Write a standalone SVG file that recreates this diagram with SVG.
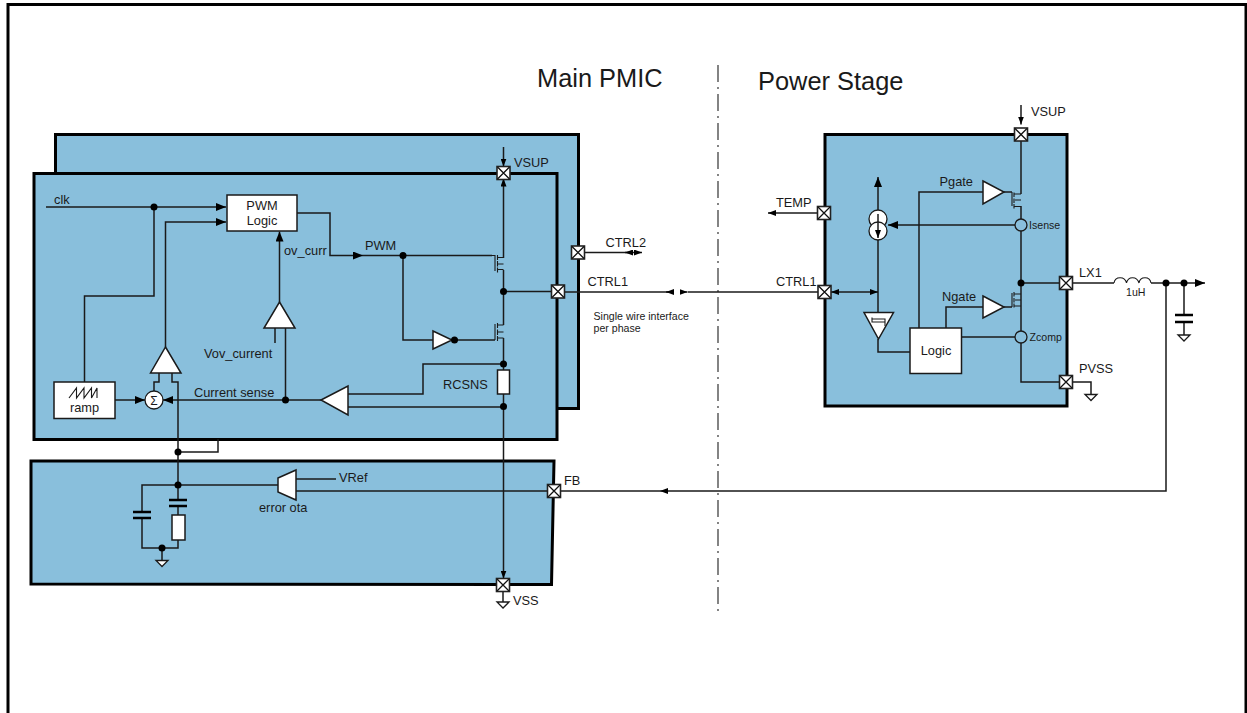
<svg xmlns="http://www.w3.org/2000/svg" width="1247" height="713" viewBox="0 0 1247 713">
<style>
text{font-family:"Liberation Sans",Arial,sans-serif;font-size:12.8px;fill:#1a1a1a}
.t{font-size:25.4px}
.s{font-size:10.6px}
.panel{fill:#89bfdc;stroke:#000;stroke-width:3}
.box{fill:#fff;stroke:#1a1a1a;stroke-width:1.5}
.w{fill:none;stroke:#1a1a1a;stroke-width:1.5}
.thin{fill:none;stroke:#1a1a1a;stroke-width:1.1}
.plate{fill:none;stroke:#000;stroke-width:2.5}
.dot{fill:#000}
</style>
<defs>
<g id="pin"><rect x="-6.5" y="-6.5" width="13" height="13" fill="#fff" stroke="#222" stroke-width="1.6"/><path d="M-6 -6L6 6M-6 6L6 -6" stroke="#111" stroke-width="1.3" fill="none"/></g>
<path id="gnd" d="M-6 0H6L0 6Z" fill="#fff" stroke="#1a1a1a" stroke-width="1.3"/>
<marker id="arr" viewBox="0 0 10 8" refX="10" refY="4" markerWidth="10" markerHeight="8" markerUnits="userSpaceOnUse" orient="auto-start-reverse"><path d="M0 0L10 4L0 8Z" fill="#000"/></marker>
<marker id="arrs" viewBox="0 0 8 6" refX="8" refY="3" markerWidth="8" markerHeight="6" markerUnits="userSpaceOnUse" orient="auto-start-reverse"><path d="M0 0L8 3L0 6Z" fill="#000"/></marker>
</defs>

<g id="frame"><path d="M8 713V4.500H1246V713" fill="none" stroke="#000" stroke-width="3"/></g>

<g id="titles">
<text class="t" x="537" y="87">Main PMIC</text>
<text class="t" x="758" y="90">Power Stage</text>
</g>

<g id="panels">
<rect id="panel-back" class="panel" x="55.500" y="134.500" width="523" height="274"/>
<rect id="panel-front" class="panel" x="34" y="173.500" width="523" height="266"/>
<path id="panel-bottom" class="panel" d="M31 461H554L551.500 584.500L31 584Z"/>
<rect id="panel-stage" class="panel" x="825" y="134.500" width="242" height="271.500"/>
</g>

<g id="connectors">
<path d="M718 65V612" fill="none" stroke="#333" stroke-width="1.2" stroke-dasharray="17 5 2 5"/>
<path class="w" d="M46 207H226" marker-end="url(#arr)"/>
<path class="w" d="M154 207V296H84.500V382"/>
<path class="w" d="M165.500 347V222H226" marker-end="url(#arr)"/>
<path class="w" d="M297 213H330V255.500H363" marker-end="url(#arr)"/>
<path class="w" d="M363 255.500H492"/>
<path class="w" d="M403 255.500V340H433"/>
<path class="w" d="M452 340H495"/>
<path class="w" d="M279.500 302V231.500" marker-end="url(#arr)"/>
<path class="w" d="M275 328V343"/>
<path class="w" d="M285.500 328V400"/>
<path class="w" d="M321 400H163" marker-end="url(#arr)"/>
<path class="w" d="M115 400H145" marker-end="url(#arr)"/>
<path class="w" d="M159 373V382H154V391"/>
<path class="w" d="M172 373V382H178V485"/>
<path class="w" d="M178 452H218V439"/>
<path class="w" d="M348 394H423V364H503.500"/>
<path class="w" d="M348 407H503.500"/>
<path class="w" d="M503.500 258V178.500" marker-end="url(#arrs)"/>
<path class="w" d="M503.500 147V166.500" marker-end="url(#arrs)"/>
<path class="w" d="M503.500 270V325"/>
<path class="w" d="M503.500 338V578.500" marker-end="url(#arrs)"/>
<path class="w" d="M503.500 291.500H558"/>
<path class="w" d="M503 591V602"/>
<path class="w" d="M578 252.500H642" marker-end="url(#arrs)"/>
<path class="w" d="M633 252.500H625" marker-end="url(#arrs)"/>
<path class="w" d="M558 292H674"/>
<path class="w" d="M674 292H666" marker-end="url(#arrs)"/>
<path class="w" d="M680 292H687.500" marker-end="url(#arrs)"/>
<path class="w" d="M688 292H824"/>
<path class="w" d="M178 485H278"/>
<path class="w" d="M178 485V500M178 506V515M178 540V548H142V518M142 512V485H178"/>
<path class="w" d="M162 548V560"/>
<path class="w" d="M296 479H336"/>
<path class="w" d="M296 491H560"/>
<path class="w" d="M1166 283V491H660" marker-end="url(#arrs)"/>
<path class="w" d="M660 491H554"/>
<path class="w" d="M1021 105V124.500" marker-end="url(#arrs)"/>
<path class="w" d="M1021 134.500V194"/>
<path class="w" d="M1021 206V219M1021 231V331M1021 343V382H1066"/>
<path class="w" d="M1021 283H1066"/>
<path class="w" d="M919 328V192H983"/>
<path class="w" d="M946 328V307H983"/>
<path class="w" d="M1004 192H1012M1004 307H1012"/>
<path class="w" d="M1015 225H888" marker-end="url(#arr)"/>
<path class="w" d="M878 210V177" marker-end="url(#arr)"/>
<path class="w" d="M878 240V312"/>
<path class="w" d="M878 339V352H910"/>
<path class="w" d="M961.500 337H1015"/>
<path class="w" d="M831 292H878" marker-start="url(#arrs)" marker-end="url(#arrs)"/>
<path class="w" d="M824 213H768" marker-end="url(#arrs)"/>
<path class="w" d="M1066 382H1091V394"/>
<path class="w" d="M1066 283H1114"/>
<path class="w" d="M1151 283H1205" marker-end="url(#arr)"/>
<path class="w" d="M1184 283V315M1184 322V335"/>
</g>

<g id="pwm-logic"><rect class="box" x="227" y="195" width="70" height="36"/><text x="262" y="210" text-anchor="middle">PWM</text><text x="262" y="225" text-anchor="middle">Logic</text></g>

<g id="ramp"><rect class="box" x="54" y="382" width="61" height="36.500"/><path class="thin" d="M69 398L76.500 388V398L84 388V398L91.500 388V398L97 388V398"/><text x="84.500" y="412" text-anchor="middle">ramp</text></g>

<g id="sum"><circle cx="154" cy="400" r="9" fill="#fff" stroke="#1a1a1a" stroke-width="1.3"/><text x="154" y="404.500" text-anchor="middle" style="font-size:12px">Σ</text></g>

<g id="comparator"><path class="box" d="M165.500 347L181 373H150.500Z"/></g>
<g id="vov-amp"><path class="box" d="M279.500 302L295 328H264Z"/><text x="204" y="358">Vov_current</text><text x="284" y="255">ov_curr</text></g>
<g id="sense-amp"><path class="box" d="M321 400L348 386V415Z"/><text x="194" y="397">Current sense</text></g>
<g id="inverter"><path class="box" d="M433 331L452 340L433 349Z"/></g>
<g id="rcsns"><rect class="box" x="497.500" y="370" width="12" height="24"/><text x="443" y="389">RCSNS</text></g>
<g id="pwm-label"><text x="365" y="250">PWM</text><text x="54" y="204">clk</text></g>

<g id="mosfet-high"><path class="thin" d="M492 255.500H495V271M497.500 255V260M497.500 261V266.500M497.500 267.500V272.500M497.500 257.500H503.500M497.500 269.500H503.500M503.500 264H498"/></g>
<g id="mosfet-low"><path class="thin" d="M495 324V340M497.500 323V328M497.500 329.500V335M497.500 336V341M497.500 325H503.500M497.500 338H503.500M503.500 332H498"/></g>

<g id="rc-network">
<path class="plate" d="M169 500H187M169 506H187M133 512H151M133 518H151"/>
<rect class="box" x="172" y="515" width="13" height="25"/>
<use href="#gnd" x="162" y="560.500"/>
</g>
<g id="error-ota"><path class="box" d="M278 478L296 470V500L278 492Z"/><text x="259" y="512">error ota</text><text x="339" y="482">VRef</text></g>

<g id="dots">
<circle class="dot" cx="154" cy="207" r="3.500"/><circle class="dot" cx="403" cy="255.500" r="3.500"/><circle class="dot" cx="454.500" cy="340" r="3.500"/><circle class="dot" cx="503.500" cy="291.500" r="3.500"/><circle class="dot" cx="503.500" cy="364" r="3.500"/><circle class="dot" cx="503.500" cy="406.500" r="3.500"/><circle class="dot" cx="285.500" cy="400" r="3.500"/><circle class="dot" cx="178" cy="452" r="3.500"/><circle class="dot" cx="178" cy="485" r="3.500"/><circle class="dot" cx="162" cy="548" r="3.500"/><circle class="dot" cx="1021" cy="283" r="3.500"/><circle class="dot" cx="1166" cy="283" r="3.500"/><circle class="dot" cx="1184" cy="283" r="3.500"/>
</g>

<g id="pin-vsup-main"><use href="#pin" x="503.500" y="173"/><text x="514" y="167">VSUP</text></g>
<g id="pin-ctrl2"><use href="#pin" x="578" y="252.500"/><text x="605.500" y="247">CTRL2</text></g>
<g id="pin-ctrl1-main"><use href="#pin" x="558" y="291.500"/><text x="587.500" y="286">CTRL1</text></g>
<g id="pin-fb"><use href="#pin" x="554" y="491"/><text x="564" y="485">FB</text></g>
<g id="pin-vss"><use href="#pin" x="503" y="585"/><use href="#gnd" x="503" y="602"/><text x="513" y="605">VSS</text></g>
<g id="interface-note"><text class="s" x="593.500" y="320">Single wire interface</text><text class="s" x="593.500" y="331.500">per phase</text></g>

<g id="pin-vsup-stage"><use href="#pin" x="1021" y="134.500"/><text x="1031" y="116">VSUP</text></g>
<g id="pin-temp"><use href="#pin" x="824" y="213"/><text x="776" y="207">TEMP</text></g>
<g id="pin-ctrl1-stage"><use href="#pin" x="824.500" y="292"/><text x="776" y="286">CTRL1</text></g>
<g id="pin-lx1"><use href="#pin" x="1066" y="283"/><text x="1079" y="277">LX1</text></g>
<g id="pin-pvss"><use href="#pin" x="1066" y="382"/><use href="#gnd" x="1091" y="394.500"/><text x="1079" y="373">PVSS</text></g>

<g id="current-source"><circle cx="878" cy="219" r="9" fill="#fff" stroke="#1a1a1a" stroke-width="1.3"/><circle cx="878" cy="231" r="9" fill="#fff" stroke="#1a1a1a" stroke-width="1.3"/><path class="w" d="M878 214V238" marker-end="url(#arrs)"/></g>
<g id="schmitt"><path class="box" d="M864 312.500H893.500L878.500 339Z"/><path class="thin" d="M872 317.500V322H885M872 319H885V326"/></g>
<g id="logic"><rect class="box" x="910" y="328" width="51.500" height="45.500"/><text x="936" y="355" text-anchor="middle">Logic</text></g>
<g id="driver-p"><path class="box" d="M983 181L1004 192L983 204Z"/><text x="939.500" y="186">Pgate</text></g>
<g id="driver-n"><path class="box" d="M983 296L1004 307L983 318Z"/><text x="942" y="301">Ngate</text></g>
<g id="mosfet-p"><path class="thin" d="M1012 192V206M1014 192.500V197M1014 198.500V203M1014 204V208.500M1014 194H1021M1014 206.500H1021M1021 200H1015"/></g>
<g id="mosfet-n"><path class="thin" d="M1012 293V307M1014 292V296.500M1014 298V302.500M1014 303.500V307.500M1014 294H1021M1014 306H1021M1021 300H1015"/></g>
<g id="isense"><circle cx="1021" cy="225" r="6" fill="none" stroke="#1a1a1a" stroke-width="1.3"/><text class="s" x="1029" y="229">Isense</text></g>
<g id="zcomp"><circle cx="1021" cy="337" r="6" fill="none" stroke="#1a1a1a" stroke-width="1.3"/><text class="s" x="1029.500" y="341">Zcomp</text></g>

<g id="inductor"><path class="thin" d="M1114 283C1115 276 1125 276 1126.500 283C1128 276 1137 276 1139 283C1140 276 1150 276 1151 283"/><text class="s" x="1126" y="296">1uH</text></g>
<g id="output-cap"><path class="plate" d="M1175 315H1193M1175 322H1193"/><use href="#gnd" x="1184" y="335"/></g>
</svg>
